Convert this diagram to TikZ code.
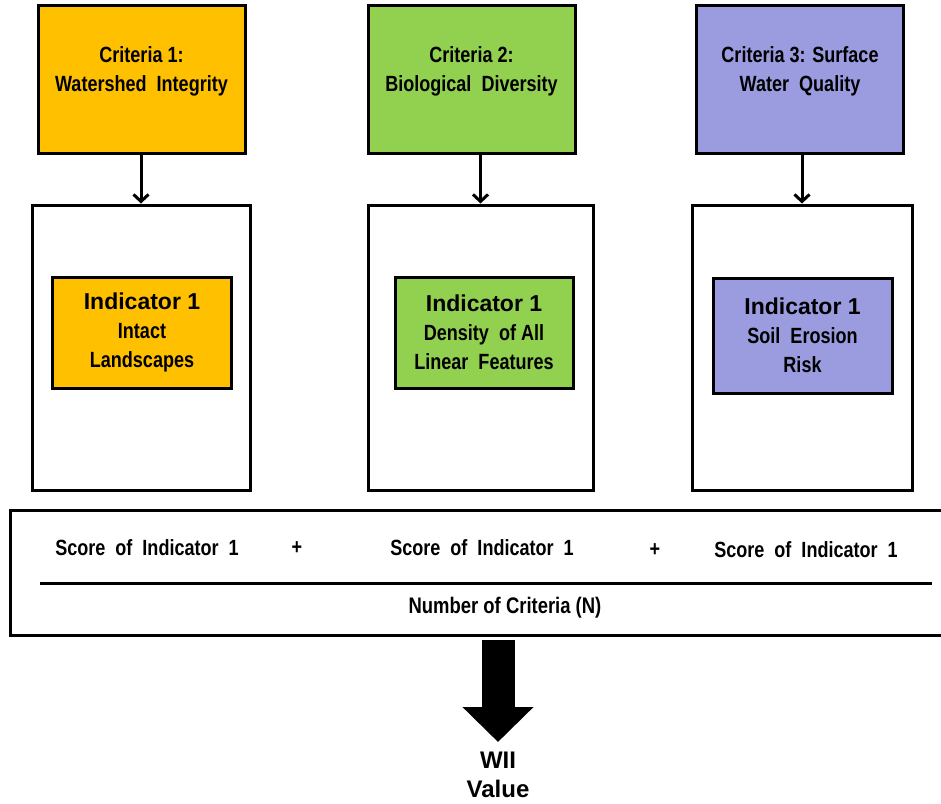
\documentclass[tikz,border=0pt]{standalone}
\usepackage{fontspec}
\setmainfont{Liberation Sans}
\newfontfamily\narrowfont{Liberation Sans}[FakeStretch=0.82]
\usetikzlibrary{positioning,arrows.meta}
\definecolor{critorange}{HTML}{FFC000}
\definecolor{critgreen}{HTML}{92D050}
\definecolor{critpurple}{HTML}{9B9BE0}
\newcommand{\indname}{\normalfont\bfseries\fontsize{23}{30}\selectfont}

\begin{document}
\begin{tikzpicture}[x=1pt, y=-1pt]
    \tikzstyle{criteria} = [rectangle, draw, line width=3pt, minimum width=207pt, minimum height=148pt, align=center, text depth=19pt, font=\narrowfont\bfseries\fontsize{22}{29}\selectfont]
    \tikzstyle{holder} = [rectangle, draw, line width=3pt, minimum height=285pt]
    \tikzstyle{indicator} = [rectangle, draw, line width=3pt, minimum width=179pt, minimum height=111pt, align=center, font=\narrowfont\bfseries\fontsize{22}{29}\selectfont]
    \tikzstyle{score} = [font=\narrowfont\bfseries\fontsize{22}{26}\selectfont]
    \tikzstyle{arrow} = [line width=3pt, -{Straight Barb[length=7pt, width=15pt]}]

    \useasboundingbox (0,0) rectangle (941,803);

    % Kriterien
    \node[criteria, fill=critorange] (c1) at (141.5,79) {Criteria 1:\\Watershed\ \ Integrity};
    \node[criteria, fill=critgreen] (c2) at (471.5,79) {Criteria 2:\\Biological\ \ Diversity};
    \node[criteria, fill=critpurple] (c3) at (800,79) {Criteria 3: Surface\\Water\ \ Quality};

    % Rahmen mit Indikatoren
    \node[holder, minimum width=218pt] (b1) at (141,347.5) {};
    \node[holder, minimum width=225pt] (b2) at (480.5,347.5) {};
    \node[holder, minimum width=220pt] (b3) at (802,347.5) {};

    \node[indicator, fill=critorange] (i1) at (142,332.5) {{\indname Indicator 1}\\Intact\\Landscapes};
    \node[indicator, fill=critgreen, minimum width=178pt] (i2) at (484,332.5) {{\indname Indicator 1}\\Density\ \ of All\\Linear\ \ Features};
    \node[indicator, fill=critpurple, minimum height=115pt] (i3) at (802.5,335.5) {{\indname Indicator 1}\\Soil\ \ Erosion\\Risk};

    % Formel
    \node[rectangle, draw, line width=3pt, minimum width=940pt, minimum height=125pt] (formula) at (480,572.5) {};
    \node[score] (s1) at (147,548) {Score\ \ of\ \ Indicator\ \ 1};
    \node[score] (plus1) at (297,548) {+};
    \node[score] (s2) at (482,548) {Score\ \ of\ \ Indicator\ \ 1};
    \node[score] (plus2) at (655,550) {+};
    \node[score] (s3) at (806,550) {Score\ \ of\ \ Indicator\ \ 1};
    \draw[line width=3pt] (40,583) -- (932,583);
    \node[score, font=\narrowfont\bfseries\fontsize{22.5}{26}\selectfont] (n) at (505,608) {Number of Criteria (N)};

    \node[anchor=north, inner sep=0pt, align=center, font=\normalfont\bfseries\fontsize{24}{29}\selectfont] (wii) at (498,752) {WII\\Value};

    % Pfeile
    \draw[arrow] (c1.south -| b1.north) -- (b1.north);
    \draw[arrow] (c2.south -| b2.north) -- (b2.north);
    \draw[arrow] (c3.south -| b3.north) -- (b3.north);
    \draw[line width=33pt, -{Triangle[length=35pt, width=69pt]}, shorten <=3pt, shorten >=10pt] (formula.south -| wii.north) -- (wii.north);
\end{tikzpicture}
\end{document}
